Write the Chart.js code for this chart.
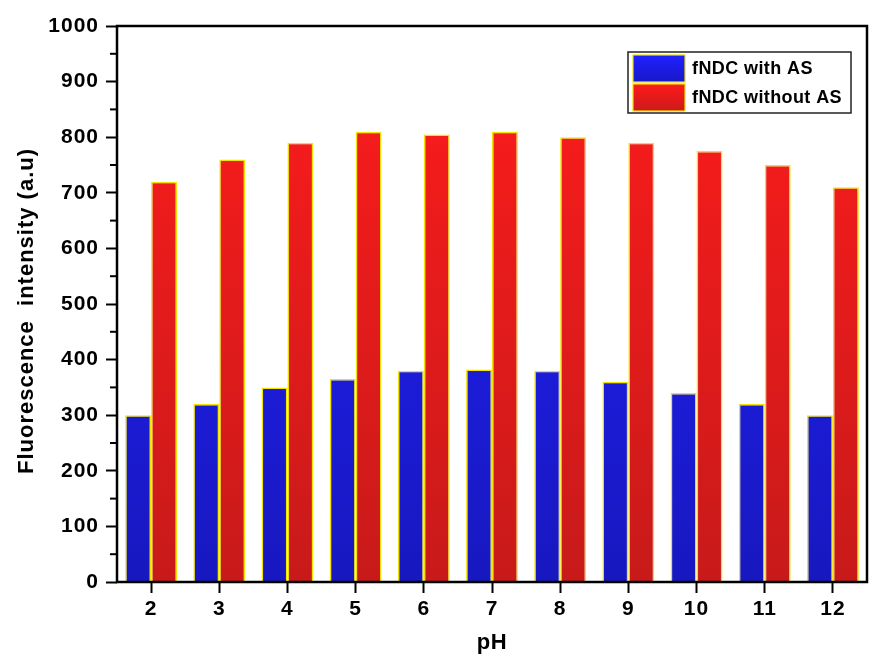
<!DOCTYPE html>
<html>
<head>
<meta charset="utf-8">
<script src="https://cdn.jsdelivr.net/npm/chart.js@4"></script>
<style>
  html, body { margin: 0; padding: 0; background: #fff; }
  #wrap { width: 885px; height: 657px; }
</style>
</head>
<body>
<div id="wrap"><canvas id="phChart" width="885" height="657"></canvas></div>
<script>
// data
const phLabels = ['2', '3', '4', '5', '6', '7', '8', '9', '10', '11', '12'];
const withAS = [300, 320, 350, 365, 380, 382, 380, 360, 340, 320, 300];
const withoutAS = [720, 760, 790, 810, 805, 810, 800, 790, 775, 750, 710];
const seriesNames = ['fNDC with AS', 'fNDC without AS'];
const xTitle = 'pH';
const yTitle = 'Fluorescence  intensity (a.u)';

const FONT = 'Arial, "Liberation Sans", sans-serif';

function grad(top, bottom) {
  return (ctx) => {
    const area = ctx.chart.chartArea;
    if (!area) return top;
    const g = ctx.chart.ctx.createLinearGradient(0, area.top, 0, area.bottom);
    g.addColorStop(0, top);
    g.addColorStop(1, bottom);
    return g;
  };
}

// slightly wider lettering like the original figure
const spacingPlugin = {
  id: 'spacing',
  beforeDraw(chart) {
    chart.ctx.save();
    chart.ctx.letterSpacing = '1px';
  },
  afterDraw(chart) {
    chart.ctx.restore();
  }
};

// frame, minor ticks, axis titles and the inside legend
const framePlugin = {
  id: 'frame',
  afterDraw(chart) {
    const { ctx, chartArea: a, scales } = chart;
    ctx.save();
    ctx.strokeStyle = '#000';
    ctx.lineWidth = 2.5;
    ctx.strokeRect(a.left, a.top, a.right - a.left, a.bottom - a.top);

    // minor y ticks
    ctx.lineWidth = 2;
    for (let v = 50; v < 1000; v += 100) {
      const y = scales.y.getPixelForValue(v);
      ctx.beginPath();
      ctx.moveTo(a.left - 7, y);
      ctx.lineTo(a.left, y);
      ctx.stroke();
    }

    // axis titles
    ctx.fillStyle = '#000';
    ctx.textAlign = 'center';
    ctx.textBaseline = 'middle';
    ctx.font = 'bold 22px ' + FONT;
    ctx.letterSpacing = '0.5px';
    ctx.fillText(xTitle, (a.left + a.right) / 2, 643);
    ctx.save();
    ctx.translate(27, 311);
    ctx.rotate(-Math.PI / 2);
    ctx.letterSpacing = '1px';
    ctx.fillText(yTitle, 0, 0);
    ctx.restore();

    // legend box
    const lx = 628, ly = 52, lw = 223, lh = 61;
    ctx.fillStyle = '#fff';
    ctx.fillRect(lx, ly, lw, lh);
    ctx.strokeStyle = '#222';
    ctx.lineWidth = 1.5;
    ctx.strokeRect(lx, ly, lw, lh);
    const sw = [['#2020ff', '#1818c8'], ['#ff1a1a', '#cc1a1a']];
    seriesNames.forEach((name, i) => {
      const sy = ly + 3 + i * 29;
      const g = ctx.createLinearGradient(0, sy, 0, sy + 27);
      g.addColorStop(0, sw[i][0]);
      g.addColorStop(1, sw[i][1]);
      ctx.fillStyle = g;
      ctx.fillRect(lx + 5, sy, 52, 27);
      ctx.strokeStyle = '#f0e000';
      ctx.lineWidth = 1.2;
      ctx.strokeRect(lx + 5, sy, 52, 27);
      ctx.fillStyle = '#000';
      ctx.font = 'bold 18px ' + FONT;
      ctx.letterSpacing = '0.4px';
      ctx.textBaseline = 'middle';
      ctx.textAlign = 'left';
      ctx.fillText(name, lx + 64, sy + 14);
    });
    ctx.restore();
  }
};

new Chart(document.getElementById('phChart'), {
  type: 'bar',
  data: {
    labels: phLabels,
    datasets: [{
      label: seriesNames[0],
      data: withAS,
      backgroundColor: grad('#2222ff', '#1818c0'),
      borderColor: '#f2e400',
      borderWidth: 1.5
    }, {
      label: seriesNames[1],
      data: withoutAS,
      backgroundColor: grad('#ff1c1c', '#c81a1a'),
      borderColor: '#f2e400',
      borderWidth: 1.5
    }]
  },
  options: {
    responsive: false,
    animation: false,
    layout: { padding: { left: 0, top: 26, right: 18, bottom: 0 } },
    plugins: {
      legend: { display: false },
      tooltip: { enabled: false }
    },
    datasets: {
      bar: { categoryPercentage: 0.76, barPercentage: 1 }
    },
    scales: {
      x: {
        afterFit: (s) => { s.height = 75; },
        grid: {
          offset: false,
          drawOnChartArea: false,
          drawTicks: true,
          tickLength: 11,
          tickWidth: 2,
          tickColor: '#000'
        },
        border: { display: false },
        ticks: {
          color: '#000',
          padding: 4,
          font: { family: FONT, size: 21, weight: 'bold' }
        }
      },
      y: {
        min: 0,
        max: 1000,
        afterFit: (s) => { s.width = 117; },
        grid: {
          drawOnChartArea: false,
          drawTicks: true,
          tickLength: 11,
          tickWidth: 2,
          tickColor: '#000'
        },
        border: { display: false },
        ticks: {
          stepSize: 100,
          color: '#000',
          padding: 7,
          callback: (v) => String(v),
          font: { family: FONT, size: 21, weight: 'bold' }
        }
      }
    }
  },
  plugins: [spacingPlugin, framePlugin]
});
</script>
</body>
</html>
